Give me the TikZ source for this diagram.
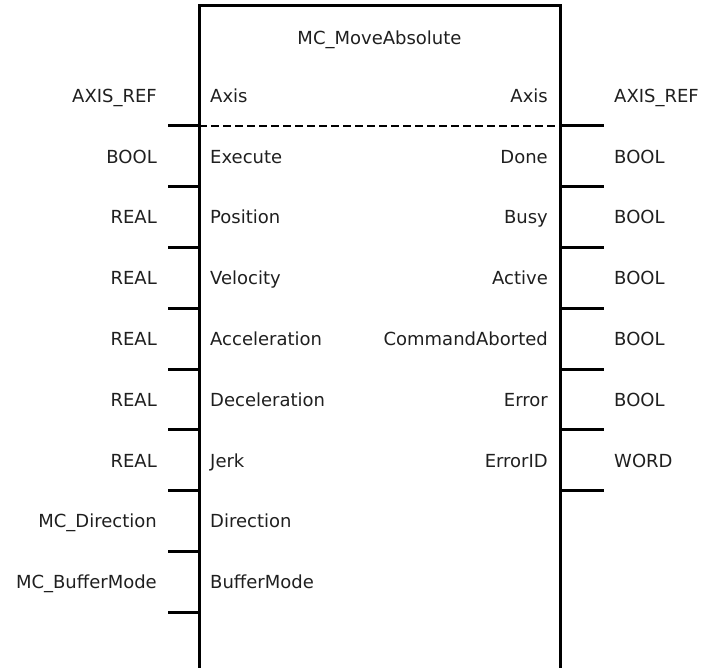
\documentclass[tikz,border=0pt]{standalone}
\usepackage{fontspec}
\setmainfont{DejaVu Sans}
\begin{document}
\begin{tikzpicture}[x=1pt,y=-1pt,
  lbl/.style={inner sep=0pt,font=\fontsize{18}{21}\selectfont,text=black!88},
  wire/.style={line width=3pt},
  sep/.style={line width=2.6pt,dash pattern=on 8pt off 4pt}]
\useasboundingbox (0,0) rectangle (709,668);
% function block body (open at bottom)
\draw[wire] (199,690) coordinate (bl) -- (199,6) coordinate (tl) -- (560,6) coordinate (tr) -- (560,690) coordinate (br);
\node[lbl,anchor=base] (title) at (379.5,45) {MC\_MoveAbsolute};
% inputs
\foreach \i/\typ/\nm in {0/AXIS\_REF/Axis,1/BOOL/Execute,2/REAL/Position,3/REAL/Velocity,4/REAL/Acceleration,5/REAL/Deceleration,6/REAL/Jerk,7/MC\_Direction/Direction,8/MC\_BufferMode/BufferMode}{
  \pgfmathsetmacro{\yb}{102.5+60.75*\i}
  \pgfmathsetmacro{\yl}{126+60.75*\i}
  \node[lbl,anchor=base east] (ti\i) at (157,\yb) {\typ};
  \node[lbl,anchor=base west] (ni\i) at (210,\yb) {\nm};
  \coordinate (ia\i) at (168,\yl);
  \coordinate (ib\i) at (199,\yl);
  \draw[wire] (ia\i) -- (ib\i);
}
% outputs
\foreach \i/\typ/\nm in {0/AXIS\_REF/Axis,1/BOOL/Done,2/BOOL/Busy,3/BOOL/Active,4/BOOL/CommandAborted,5/BOOL/Error,6/WORD/ErrorID}{
  \pgfmathsetmacro{\yb}{102.5+60.75*\i}
  \pgfmathsetmacro{\yl}{126+60.75*\i}
  \node[lbl,anchor=base west] (to\i) at (614,\yb) {\typ};
  \node[lbl,anchor=base east] (no\i) at (548,\yb) {\nm};
  \coordinate (oa\i) at (560,\yl);
  \coordinate (ob\i) at (604,\yl);
  \draw[wire] (oa\i) -- (ob\i);
}
% in/out axis separator
\draw[sep] (ib0) -- (oa0);
\end{tikzpicture}
\end{document}
